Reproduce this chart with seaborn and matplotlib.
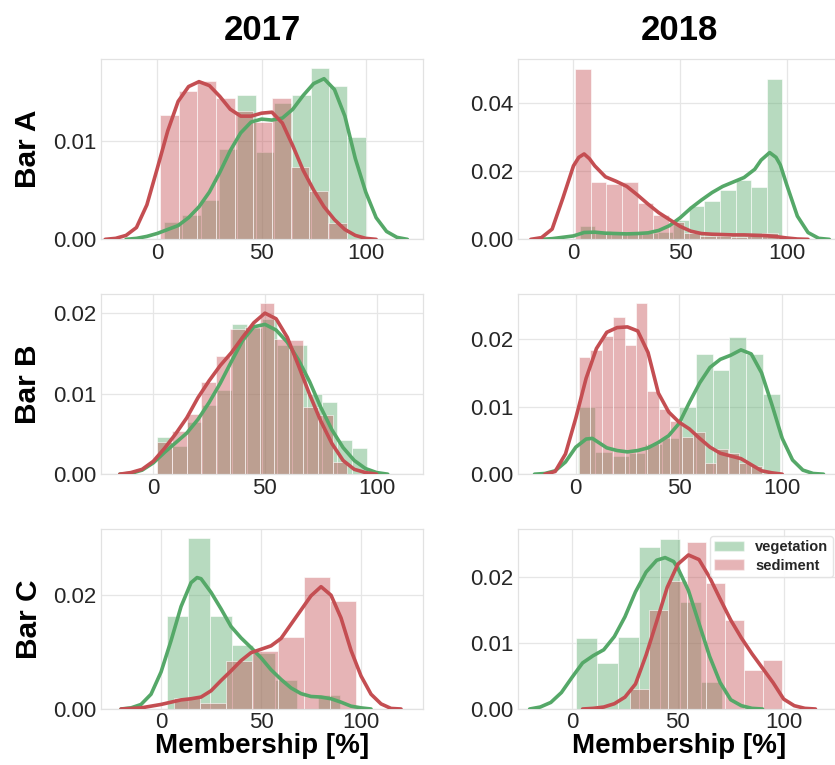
import matplotlib
matplotlib.use("Agg")
import matplotlib.pyplot as plt
import numpy as np
import pandas as pd
import seaborn as sns
from matplotlib.patches import Patch
from matplotlib.ticker import FormatStrFormatter

years = ["2017", "2018"]
sites = ["Bar A", "Bar B", "Bar C"]
classes = ["vegetation", "sediment"]

# histogram bins as (first edge, bin width) plus density per bin,
# kde curves as (x, density) pairs

# Bar A 2017
a17_veg_bin = (3.2, 8.8)
a17_veg_hist = [0.0018, 0.0025, 0.0040, 0.0092, 0.0146, 0.0089, 0.0138, 0.0146, 0.0174, 0.0156, 0.0104]
a17_veg_kx = [-15, -10, -5, 0, 5, 10, 15, 20, 25, 30, 35, 40, 45, 50, 55, 60, 65, 70, 75, 80,
              85, 90, 95, 100, 105, 110, 115, 120]
a17_veg_ky = [0, 0.0001, 0.0003, 0.0006, 0.0010, 0.0014, 0.0022, 0.0033, 0.0048, 0.0068,
              0.0090, 0.0108, 0.0119, 0.0122, 0.0121, 0.0123, 0.0132, 0.0146, 0.0158, 0.0163,
              0.0152, 0.0125, 0.0082, 0.0048, 0.0022, 0.0008, 0.0002, 0]
a17_sed_bin = (1.3, 8.96)
a17_sed_hist = [0.0126, 0.0151, 0.0161, 0.0143, 0.0130, 0.0119, 0.0143, 0.0073, 0.0049, 0.0017]
a17_sed_kx = [-25, -20, -15, -10, -5, 0, 5, 10, 15, 20, 25, 30, 35, 40, 45, 50, 55, 60, 65, 70,
              75, 80, 85, 90, 95, 100, 105]
a17_sed_ky = [0, 0.0001, 0.0004, 0.0012, 0.0035, 0.0072, 0.0110, 0.0140, 0.0155, 0.0160,
              0.0156, 0.0145, 0.0132, 0.0125, 0.0125, 0.0128, 0.0129, 0.0118, 0.0095, 0.0070,
              0.0050, 0.0033, 0.0020, 0.0010, 0.0004, 0.0001, 0]

# Bar A 2018
a18_veg_bin = (3.0, 7.3)
a18_veg_hist = [0.0040, 0.0024, 0.0018, 0.0018, 0.0018, 0.0022, 0.0057, 0.0099, 0.0113, 0.0144,
                0.0174, 0.0152, 0.0468]
a18_veg_kx = [-15, -10, -5, 0, 5, 10, 15, 20, 25, 30, 35, 40, 45, 50, 55, 60, 65, 70, 75, 80,
              85, 88, 92, 95, 97, 100, 105, 110, 115, 120]
a18_veg_ky = [0, 0.0002, 0.0006, 0.0010, 0.0020, 0.0021, 0.0018, 0.0017, 0.0016, 0.0017,
              0.0019, 0.0026, 0.0040, 0.0063, 0.0091, 0.0115, 0.0137, 0.0155, 0.0168, 0.0181,
              0.0205, 0.0232, 0.0254, 0.0240, 0.0218, 0.0160, 0.0068, 0.0020, 0.0003, 0]
a18_sed_bin = (0.8, 7.32)
a18_sed_hist = [0.0500, 0.0167, 0.0162, 0.0167, 0.0107, 0.0071, 0.0050, 0.0018, 0.0011, 0.0010,
                0.0008, 0.0010, 0.0020]
a18_sed_kx = [-20, -15, -10, -5, 0, 2.5, 5, 7.5, 10, 15, 20, 25, 30, 35, 40, 45, 50, 55, 60, 65,
              70, 75, 80, 85, 90, 95, 100, 105, 110]
a18_sed_ky = [0, 0.0005, 0.0030, 0.0120, 0.0215, 0.0240, 0.0250, 0.0236, 0.0215, 0.0183,
              0.0170, 0.0155, 0.0130, 0.0103, 0.0078, 0.0058, 0.0038, 0.0024, 0.0017, 0.0015,
              0.0014, 0.0013, 0.0013, 0.0012, 0.0011, 0.0008, 0.0004, 0.0001, 0]

# Bar B 2017
b17_veg_bin = (1.8, 6.71)
b17_veg_hist = [0.0046, 0.0035, 0.0065, 0.0086, 0.0105, 0.0187, 0.0182, 0.0193, 0.0161, 0.0161,
                0.0100, 0.0090, 0.0042, 0.0032]
b17_veg_kx = [-15, -10, -5, 0, 5, 10, 15, 20, 25, 30, 35, 40, 45, 50, 55, 60, 65, 70, 75, 80,
              85, 90, 95, 100, 105]
b17_veg_ky = [0, 0.0001, 0.0005, 0.0014, 0.0027, 0.0039, 0.0051, 0.0068, 0.0089, 0.0113,
              0.0140, 0.0166, 0.0183, 0.0186, 0.0179, 0.0164, 0.0142, 0.0115, 0.0083, 0.0055,
              0.0033, 0.0017, 0.0007, 0.0002, 0]
b17_sed_bin = (1.8, 6.54)
b17_sed_hist = [0.0040, 0.0053, 0.0075, 0.0114, 0.0147, 0.0180, 0.0183, 0.0213, 0.0168, 0.0167,
                0.0084, 0.0073, 0.0015]
b17_sed_kx = [-15, -10, -5, 0, 5, 10, 15, 20, 25, 30, 35, 40, 45, 50, 55, 60, 65, 70, 75, 80,
              85, 90, 95, 100]
b17_sed_ky = [0, 0.0002, 0.0006, 0.0016, 0.0032, 0.0050, 0.0070, 0.0095, 0.0116, 0.0135,
              0.0151, 0.0170, 0.0188, 0.0200, 0.0193, 0.0170, 0.0135, 0.0099, 0.0066, 0.0038,
              0.0017, 0.0006, 0.0002, 0]

# Bar B 2018
b18_veg_bin = (1.1, 8.15)
b18_veg_hist = [0.0100, 0.0033, 0.0027, 0.0031, 0.0045, 0.0053, 0.0100, 0.0178, 0.0154, 0.0203,
                0.0178, 0.0119]
b18_veg_kx = [-20, -15, -10, -5, 0, 5, 8, 10, 15, 20, 25, 30, 35, 40, 45, 50, 55, 60, 65, 70,
              75, 80, 85, 90, 95, 100, 105, 110, 115, 120]
b18_veg_ky = [0, 0.0001, 0.0005, 0.0018, 0.0040, 0.0052, 0.0053, 0.0049, 0.0039, 0.0035,
              0.0033, 0.0035, 0.0039, 0.0047, 0.0057, 0.0075, 0.0106, 0.0135, 0.0158, 0.0170,
              0.0176, 0.0184, 0.0178, 0.0150, 0.0103, 0.0053, 0.0021, 0.0006, 0.0001, 0]
b18_sed_bin = (1.4, 5.55)
b18_sed_hist = [0.0173, 0.0184, 0.0205, 0.0233, 0.0191, 0.0254, 0.0123, 0.0097, 0.0078, 0.0055,
                0.0063, 0.0016, 0.0037, 0.0031, 0.0016, 0.0012]
b18_sed_kx = [-15, -10, -5, 0, 5, 10, 15, 20, 25, 30, 35, 40, 45, 50, 55, 60, 65, 70, 75, 80,
              85, 90, 95, 100]
b18_sed_ky = [0, 0.0004, 0.0030, 0.0083, 0.0142, 0.0186, 0.0210, 0.0217, 0.0218, 0.0212,
              0.0180, 0.0120, 0.0092, 0.0077, 0.0067, 0.0053, 0.0040, 0.0031, 0.0027, 0.0023,
              0.0014, 0.0005, 0.0002, 0]

# Bar C 2017
c17_veg_bin = (2.8, 10.84)
c17_veg_hist = [0.0163, 0.0301, 0.0163, 0.0113, 0.0098, 0.0051, 0.0, 0.0025]
c17_veg_kx = [-20, -15, -10, -5, 0, 5, 10, 15, 18, 20, 25, 30, 35, 40, 45, 50, 55, 60, 65, 70,
              75, 80, 85, 90, 95, 100, 105]
c17_veg_ky = [0, 0.0002, 0.0008, 0.0026, 0.0065, 0.0120, 0.0180, 0.0222, 0.0231, 0.0229,
              0.0205, 0.0176, 0.0145, 0.0125, 0.0108, 0.0090, 0.0069, 0.0052, 0.0037, 0.0027,
              0.0022, 0.0021, 0.0018, 0.0012, 0.0005, 0.0002, 0]
c17_sed_bin = (6.5, 12.97)
c17_sed_hist = [0.0020, 0.0011, 0.0084, 0.0102, 0.0127, 0.0232, 0.0189]
c17_sed_kx = [-20, -10, -5, 0, 5, 10, 15, 20, 25, 30, 35, 40, 45, 50, 55, 60, 65, 70, 75, 80,
              85, 90, 95, 100, 105, 110, 115, 120]
c17_sed_ky = [0, 0.0002, 0.0005, 0.0008, 0.0012, 0.0016, 0.0018, 0.0021, 0.0032, 0.0050,
              0.0067, 0.0085, 0.0099, 0.0105, 0.0111, 0.0124, 0.0149, 0.0174, 0.0199, 0.0215,
              0.0200, 0.0160, 0.0103, 0.0058, 0.0026, 0.0009, 0.0001, 0]

# Bar C 2018
c18_veg_bin = (2.0, 9.85)
c18_veg_hist = [0.0108, 0.0070, 0.0109, 0.0246, 0.0259, 0.0163, 0.0041]
c18_veg_kx = [-20, -15, -10, -5, 0, 5, 10, 15, 20, 25, 30, 35, 40, 44, 48, 50, 55, 60, 65, 70,
              75, 80, 85, 90]
c18_veg_ky = [0, 0.0003, 0.0010, 0.0025, 0.0048, 0.0070, 0.0081, 0.0090, 0.0110, 0.0140,
              0.0178, 0.0208, 0.0226, 0.0230, 0.0224, 0.0214, 0.0180, 0.0130, 0.0080, 0.0040,
              0.0014, 0.0005, 0.0001, 0]
c18_sed_bin = (27.4, 9.0)
c18_sed_hist = [0.0030, 0.0150, 0.0195, 0.0253, 0.0192, 0.0135, 0.0060, 0.0075]
c18_sed_kx = [5, 10, 15, 20, 25, 30, 35, 40, 45, 50, 55, 60, 65, 70, 75, 80, 85, 90, 95, 100,
              105, 110, 115]
c18_sed_ky = [0, 0.0001, 0.0003, 0.0008, 0.0018, 0.0038, 0.0082, 0.0133, 0.0185, 0.0220,
              0.0234, 0.0227, 0.0200, 0.0167, 0.0135, 0.0108, 0.0084, 0.0062, 0.0040, 0.0015,
              0.0005, 0.0001, 0]

panels = {
    ("Bar A", "2017"): [(a17_veg_bin, a17_veg_hist, a17_veg_kx, a17_veg_ky),
                        (a17_sed_bin, a17_sed_hist, a17_sed_kx, a17_sed_ky)],
    ("Bar A", "2018"): [(a18_veg_bin, a18_veg_hist, a18_veg_kx, a18_veg_ky),
                        (a18_sed_bin, a18_sed_hist, a18_sed_kx, a18_sed_ky)],
    ("Bar B", "2017"): [(b17_veg_bin, b17_veg_hist, b17_veg_kx, b17_veg_ky),
                        (b17_sed_bin, b17_sed_hist, b17_sed_kx, b17_sed_ky)],
    ("Bar B", "2018"): [(b18_veg_bin, b18_veg_hist, b18_veg_kx, b18_veg_ky),
                        (b18_sed_bin, b18_sed_hist, b18_sed_kx, b18_sed_ky)],
    ("Bar C", "2017"): [(c17_veg_bin, c17_veg_hist, c17_veg_kx, c17_veg_ky),
                        (c17_sed_bin, c17_sed_hist, c17_sed_kx, c17_sed_ky)],
    ("Bar C", "2018"): [(c18_veg_bin, c18_veg_hist, c18_veg_kx, c18_veg_ky),
                        (c18_sed_bin, c18_sed_hist, c18_sed_kx, c18_sed_ky)],
}

# axis limits / y ticks per panel (layout only)
limits = {
    ("Bar A", "2017"): ((-27, 127.5), (0, 0.0183), [0, 0.01]),
    ("Bar A", "2018"): ((-26, 125), (0, 0.0528), [0, 0.02, 0.04]),
    ("Bar B", "2017"): ((-23.4, 120.8), (0, 0.0224), [0, 0.01, 0.02]),
    ("Bar B", "2018"): ((-28, 128), (0, 0.0267), [0, 0.01, 0.02]),
    ("Bar C", "2017"): ((-30, 131), (0, 0.0317), [0, 0.02]),
    ("Bar C", "2018"): ((-25.5, 126.6), (0, 0.0274), [0, 0.01, 0.02]),
}

sns.set_theme(style="whitegrid", rc={"grid.color": "#e6e6e6", "axes.edgecolor": "#e2e2e2",
                                     "grid.linewidth": 0.9, "axes.linewidth": 0.9})
plt.rcParams["font.family"] = ["Liberation Sans", "DejaVu Sans"]

deep = sns.color_palette("deep")
colors = {"vegetation": deep[2], "sediment": deep[3]}


def draw_class(ax, bin_spec, heights, kde_x, kde_y, color):
    start, width = bin_spec
    edges = start + width * np.arange(len(heights) + 1)
    df = pd.DataFrame({"membership": edges[:-1] + width / 2, "density": heights})
    sns.histplot(data=df, x="membership", weights="density", bins=edges.tolist(),
                 stat="count", color=color, alpha=0.42, edgecolor="white", linewidth=0.4,
                 ax=ax)
    sns.lineplot(x=kde_x, y=kde_y, color=color, linewidth=2.6, ax=ax, zorder=3,
                 solid_joinstyle="round", solid_capstyle="round")


fig, axes = plt.subplots(3, 2, figsize=(8.35, 7.65))
fig.subplots_adjust(left=0.121, right=1.006, bottom=0.0732, top=0.9229,
                    wspace=0.295, hspace=0.302)

for i, site in enumerate(sites):
    for j, year in enumerate(years):
        ax = axes[i, j]
        for cls, (bin_spec, hist, kx, ky) in zip(classes, panels[(site, year)]):
            draw_class(ax, bin_spec, hist, kx, ky, colors[cls])
        xlim, ylim, yticks = limits[(site, year)]
        ax.set_xlim(*xlim)
        ax.set_ylim(*ylim)
        ax.set_xticks([0, 50, 100])
        ax.set_yticks(yticks)
        ax.yaxis.set_major_formatter(FormatStrFormatter("%.2f"))
        ax.tick_params(axis="both", labelsize=16, length=0, colors="#262626")
        ax.tick_params(axis="x", pad=2.5)
        ax.tick_params(axis="y", pad=3)
        ax.set_xlabel("")
        ax.set_ylabel("")
        if j == 0:
            ax.set_ylabel(site, fontsize=21.5, fontweight="bold", color="black", labelpad=8)
        if i == 0:
            ax.set_title(year, fontsize=25, fontweight="bold", color="black", pad=14)
        if i == len(sites) - 1:
            ax.set_xlabel("Membership [%]", fontsize=20, fontweight="bold", color="black",
                          labelpad=0)

handles = [Patch(facecolor=colors[c], alpha=0.42, label=c) for c in classes]
axes[2, 1].legend(handles=handles, loc="upper right", prop={"weight": "bold", "size": 10.5},
                  frameon=True, framealpha=0.9, edgecolor="#e2e2e2", labelspacing=0.3,
                  borderpad=0.3)

fig.savefig("out.png", dpi=100)
